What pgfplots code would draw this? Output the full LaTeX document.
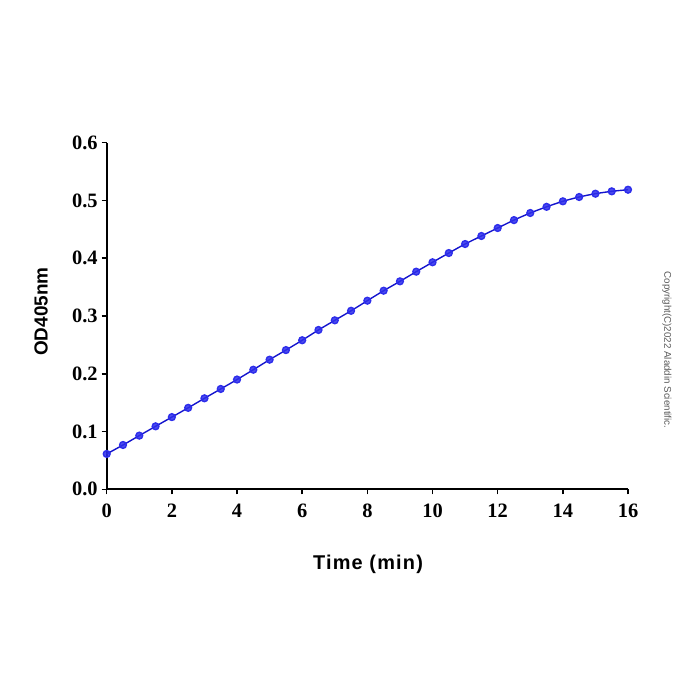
\documentclass[border=0pt]{standalone}
\usepackage{pgfplots}
\pgfplotsset{compat=1.18}
\usepackage{fontspec}
\setmainfont{Liberation Serif}
\newfontfamily\labelfont[LetterSpace=6]{Liberation Sans}
\newfontfamily\plainsans{Liberation Sans}

\definecolor{ptfill}{RGB}{45,45,235}
\definecolor{ptline}{RGB}{20,20,205}

\pgfplotstableread{
t    od
0    0.0612
0.5  0.0767
1    0.0929
1.5  0.1090
2    0.1250
2.5  0.1410
3    0.1575
3.5  0.1737
4    0.1900
4.5  0.2070
5    0.2244
5.5  0.2410
6    0.2580
6.5  0.2758
7    0.2925
7.5  0.3090
8    0.3265
8.5  0.3438
9    0.3600
9.5  0.3767
10   0.3930
10.5 0.4090
11   0.4246
11.5 0.4385
12   0.4523
12.5 0.4660
13   0.4783
13.5 0.4890
14   0.4985
14.5 0.5060
15   0.5117
15.5 0.5158
16   0.5186
}\kinetics

\begin{document}
\begin{tikzpicture}[x=1bp,y=1bp]
\path[use as bounding box] (0,0) rectangle (700,700);
\begin{axis}[
  at={(106.7bp,210.7bp)}, anchor=origin,
  scale only axis,
  width=521.3bp, height=346.6bp,
  xmin=0, xmax=16, ymin=0, ymax=0.6,
  axis lines*=left,
  axis line style={line width=1.8bp, black},
  clip=false,
  xtick={0,2,...,16},
  ytick={0,0.1,...,0.6},
  tick align=outside,
  major tick length=5bp,
  tick style={line width=1.5bp, black},
  yticklabel style={/pgf/number format/fixed, /pgf/number format/fixed zerofill, /pgf/number format/precision=1, xshift=-0.5bp},
  /pgf/number format/assume math mode=true,
  ticklabel style={font=\fontsize{20.5}{20.5}\selectfont\bfseries},
  xticklabel style={yshift=-6.5bp},
]
\addplot[color=ptline, line width=1.4bp, smooth,
  mark=*, mark size=3.4bp,
  mark options={fill=ptfill, draw=ptfill, fill opacity=0.85}]
  table[x=t, y=od] {\kinetics};
\end{axis}
\node[font=\labelfont\fontsize{20}{20}\selectfont\bfseries] at (368,136) {Time (min)};
\node[font=\plainsans\fontsize{19}{19}\selectfont\bfseries, rotate=90] at (41.2,388.3) {OD405nm};
\node[font=\plainsans\fontsize{9.8}{9.8}\selectfont, text=black!65, rotate=-90] at (667,350) {Copyright(C)2022 Aladdin Scientific.};
\end{tikzpicture}
\end{document}
